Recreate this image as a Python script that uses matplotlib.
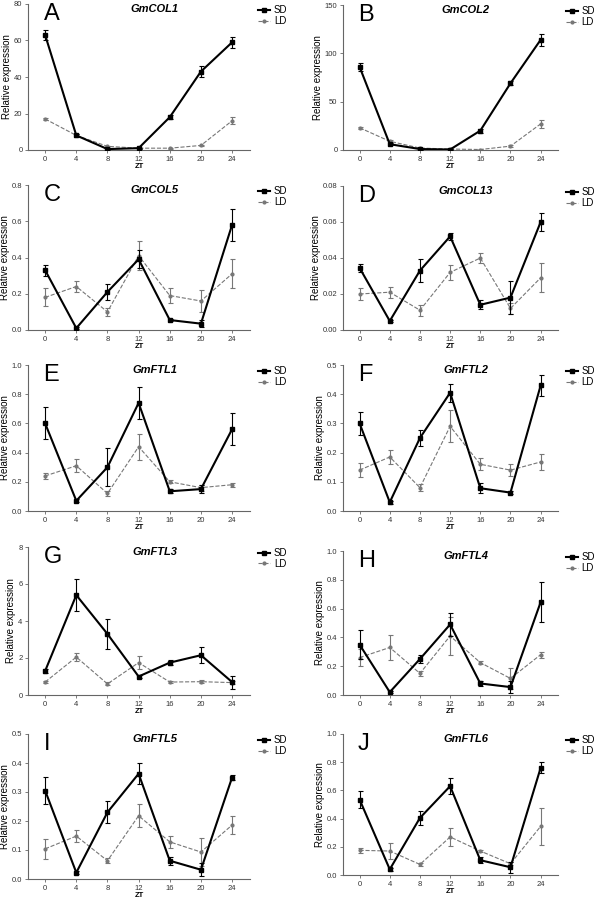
import matplotlib
matplotlib.use("Agg")
import matplotlib.pyplot as plt

zt = [0, 4, 8, 12, 16, 20, 24]

genes = ["GmCOL1", "GmCOL2", "GmCOL5", "GmCOL13", "GmFTL1",
         "GmFTL2", "GmFTL3", "GmFTL4", "GmFTL5", "GmFTL6"]
letters = ["A", "B", "C", "D", "E", "F", "G", "H", "I", "J"]

# y axis top and tick step per panel
ymax = [80, 150, 0.8, 0.08, 1.0, 0.5, 8, 1.0, 0.5, 1.0]
ystep = [20, 50, 0.2, 0.02, 0.2, 0.1, 2, 0.2, 0.1, 0.2]
ydec = [0, 0, 1, 2, 1, 1, 0, 1, 1, 1]

sd_mean = [
    [63, 8, 0.5, 1, 18, 43, 59],
    [86, 6, 1, 0.5, 20, 69, 114],
    [0.33, 0.01, 0.21, 0.39, 0.055, 0.035, 0.58],
    [0.0345, 0.005, 0.033, 0.052, 0.014, 0.018, 0.060],
    [0.60, 0.07, 0.30, 0.74, 0.135, 0.15, 0.56],
    [0.30, 0.03, 0.25, 0.405, 0.078, 0.063, 0.43],
    [1.3, 5.4, 3.3, 1.0, 1.75, 2.15, 0.7],
    [0.35, 0.02, 0.25, 0.49, 0.08, 0.055, 0.645],
    [0.305, 0.022, 0.23, 0.363, 0.063, 0.032, 0.35],
    [0.535, 0.04, 0.405, 0.63, 0.105, 0.055, 0.76],
]
sd_err = [
    [3, 0.8, 0.3, 0.3, 1, 3, 3],
    [4, 1, 0.5, 0.3, 2, 2, 6],
    [0.03, 0.005, 0.045, 0.05, 0.005, 0.02, 0.09],
    [0.002, 0.0005, 0.0065, 0.002, 0.0025, 0.009, 0.005],
    [0.11, 0.01, 0.13, 0.11, 0.015, 0.03, 0.11],
    [0.04, 0.005, 0.028, 0.03, 0.017, 0.005, 0.035],
    [0.1, 0.85, 0.8, 0.1, 0.15, 0.42, 0.35],
    [0.1, 0.005, 0.03, 0.08, 0.02, 0.04, 0.14],
    [0.048, 0.005, 0.038, 0.037, 0.013, 0.023, 0.01],
    [0.06, 0.01, 0.05, 0.055, 0.02, 0.04, 0.04],
]
ld_mean = [
    [17, 8, 2, 1, 1, 2.5, 16],
    [23, 9, 2, 1, 0.5, 4, 27],
    [0.18, 0.24, 0.10, 0.41, 0.19, 0.16, 0.31],
    [0.020, 0.021, 0.011, 0.032, 0.040, 0.012, 0.029],
    [0.24, 0.31, 0.12, 0.44, 0.20, 0.16, 0.18],
    [0.14, 0.185, 0.08, 0.29, 0.16, 0.14, 0.168],
    [0.7, 2.05, 0.6, 1.75, 0.7, 0.72, 0.67],
    [0.26, 0.33, 0.15, 0.41, 0.225, 0.115, 0.28],
    [0.104, 0.148, 0.063, 0.218, 0.128, 0.093, 0.186],
    [0.175, 0.17, 0.075, 0.27, 0.17, 0.08, 0.345],
]
ld_err = [
    [0.5, 0.5, 0.3, 0.2, 0.3, 0.5, 2],
    [1, 1, 0.5, 0.3, 0.3, 1, 4],
    [0.05, 0.03, 0.02, 0.08, 0.04, 0.06, 0.08],
    [0.0035, 0.003, 0.003, 0.004, 0.003, 0.003, 0.008],
    [0.02, 0.045, 0.02, 0.09, 0.01, 0.02, 0.015],
    [0.025, 0.025, 0.012, 0.055, 0.02, 0.02, 0.028],
    [0.05, 0.2, 0.08, 0.35, 0.05, 0.08, 0.1],
    [0.06, 0.085, 0.015, 0.13, 0.01, 0.07, 0.02],
    [0.035, 0.022, 0.008, 0.04, 0.022, 0.047, 0.03],
    [0.02, 0.055, 0.01, 0.065, 0.01, 0.01, 0.13],
]

# axes boxes in pixels: (left, top, right, bottom)
boxes = [
    (28, 4, 250, 150), (343, 5, 558, 150),
    (28, 185, 250, 330), (343, 186, 558, 330),
    (28, 365, 250, 511), (343, 365, 558, 511),
    (28, 547, 250, 695), (343, 551, 558, 695),
    (28, 734, 250, 879), (343, 734, 558, 875),
]

W, H = 600, 898
plt.rcParams["font.family"] = "Liberation Sans"
fig = plt.figure(figsize=(6, 8.98), dpi=100)
fig.patch.set_facecolor("white")

spine_col = "#666666"
for i in range(10):
    l, t, r, b = boxes[i]
    ax = fig.add_axes([l / W, 1 - b / H, (r - l) / W, (b - t) / H])
    sd = ax.errorbar(zt, sd_mean[i], yerr=sd_err[i], color="black", lw=1.5,
                     marker="s", ms=2.2, capsize=1.8, elinewidth=0.8,
                     capthick=0.8, zorder=3)
    ld = ax.errorbar(zt, ld_mean[i], yerr=ld_err[i], color="#777777", lw=0.8,
                     ls="--", marker="o", ms=2, capsize=1.8, elinewidth=0.8,
                     capthick=0.8, zorder=2)
    ax.set_xlim(-2.2, 26.3)
    ax.set_ylim(0, ymax[i])
    ax.set_xticks(zt)
    n = int(round(ymax[i] / ystep[i]))
    ticks = [k * ystep[i] for k in range(n + 1)]
    ax.set_yticks(ticks)
    ax.set_yticklabels([f"{v:.{ydec[i]}f}" for v in ticks])
    ax.tick_params(labelsize=5.5, length=2.5, width=0.6, color=spine_col,
                   labelcolor="#333333", pad=1.5)
    for s in ["top", "right"]:
        ax.spines[s].set_visible(False)
    for s in ["left", "bottom"]:
        ax.spines[s].set_color(spine_col)
        ax.spines[s].set_linewidth(0.8)
    ax.set_xlabel("ZT", fontsize=5.5, fontweight="bold", labelpad=0)
    ax.set_ylabel("Relative expression", fontsize=7, labelpad=1.5)
    ax.text(0.57, 1.0, genes[i], transform=ax.transAxes, ha="center",
            va="top", fontsize=8, fontweight="bold", style="italic")
    ax.text(0.07, 1.01, letters[i], transform=ax.transAxes, ha="left",
            va="top", fontsize=17)
    ax.legend([sd.lines[0], ld.lines[0]], ["SD", "LD"], loc="upper left",
              bbox_to_anchor=(1.02, 1.02), frameon=False, fontsize=7,
              handlelength=1.2, handletextpad=0.4, labelspacing=0.1,
              borderaxespad=0)

fig.savefig("out.png", dpi=100, facecolor="white")
